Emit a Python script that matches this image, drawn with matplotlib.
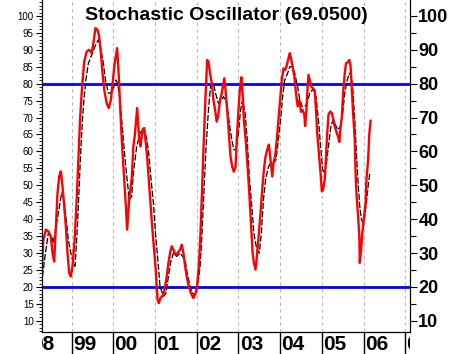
import matplotlib
matplotlib.use("Agg")
import matplotlib.pyplot as plt
import numpy as np

plt.rcParams['font.family'] = ['Liberation Sans', 'DejaVu Sans']

# %K (red) - decimal year, value
k_year = [1998.29, 1998.32, 1998.38, 1998.44, 1998.50, 1998.54, 1998.58, 1998.62, 1998.66, 1998.70,
          1998.74, 1998.78, 1998.82, 1998.86, 1998.90, 1998.94, 1998.98, 1999.02, 1999.07, 1999.12,
          1999.16, 1999.20, 1999.25, 1999.30, 1999.36, 1999.42, 1999.48, 1999.52, 1999.57, 1999.62,
          1999.66, 1999.70, 1999.74, 1999.78, 1999.84, 1999.89, 1999.94, 1999.98, 2000.03, 2000.09,
          2000.13, 2000.17, 2000.21, 2000.25, 2000.30, 2000.33, 2000.38, 2000.44, 2000.48, 2000.52,
          2000.57, 2000.62, 2000.65, 2000.70, 2000.74, 2000.77, 2000.81, 2000.85, 2000.89, 2000.93,
          2000.97, 2001.01, 2001.04, 2001.06, 2001.09, 2001.13, 2001.20, 2001.24, 2001.28, 2001.32,
          2001.36, 2001.40, 2001.44, 2001.49, 2001.54, 2001.60, 2001.64, 2001.68, 2001.72, 2001.76,
          2001.80, 2001.86, 2001.92, 2001.97, 2002.01, 2002.05, 2002.09, 2002.13, 2002.17, 2002.21,
          2002.25, 2002.28, 2002.32, 2002.36, 2002.40, 2002.44, 2002.48, 2002.51, 2002.56, 2002.60,
          2002.64, 2002.66, 2002.69, 2002.73, 2002.77, 2002.81, 2002.85, 2002.89, 2002.93, 2002.96,
          2003.00, 2003.04, 2003.07, 2003.10, 2003.13, 2003.18, 2003.22, 2003.26, 2003.30, 2003.34,
          2003.37, 2003.41, 2003.45, 2003.49, 2003.53, 2003.57, 2003.61, 2003.65, 2003.69, 2003.73,
          2003.77, 2003.81, 2003.84, 2003.88, 2003.92, 2003.96, 2004.00, 2004.04, 2004.08, 2004.12,
          2004.15, 2004.19, 2004.23, 2004.26, 2004.30, 2004.34, 2004.38, 2004.42, 2004.46, 2004.50,
          2004.54, 2004.58, 2004.60, 2004.63, 2004.66, 2004.68, 2004.72, 2004.75, 2004.79, 2004.83,
          2004.86, 2004.89, 2004.93, 2004.97, 2005.00, 2005.03, 2005.07, 2005.10, 2005.13, 2005.16,
          2005.20, 2005.24, 2005.28, 2005.31, 2005.35, 2005.39, 2005.42, 2005.45, 2005.48, 2005.51,
          2005.55, 2005.58, 2005.61, 2005.66, 2005.69, 2005.72, 2005.75, 2005.79, 2005.81, 2005.83,
          2005.87, 2005.90, 2005.91, 2005.95, 2005.97, 2005.99, 2006.02, 2006.05, 2006.07, 2006.11,
          2006.14, 2006.17]
k_val = [26.1, 33.9, 36.9, 36.4, 34.9, 30.0, 27.5, 37.9, 47.7, 52.6,
         54.1, 49.7, 43.8, 37.9, 30.0, 24.1, 23.1, 26.1, 33.9, 45.7,
         57.5, 69.3, 79.2, 86.5, 89.5, 90.0, 89.0, 91.9, 96.4, 95.9,
         93.9, 89.0, 83.1, 78.2, 74.2, 72.8, 75.2, 80.1, 86.0, 90.5,
         82.1, 71.3, 61.5, 53.6, 43.8, 36.9, 46.0, 52.0, 61.5, 65.4,
         72.8, 63.5, 61.5, 66.4, 66.9, 63.5, 58.5, 51.6, 44.8, 37.9,
         32.0, 26.1, 20.1, 16.2, 15.2, 16.7, 17.7, 20.1, 23.1, 27.1,
         30.0, 32.0, 31.0, 29.5, 30.0, 31.0, 32.5, 30.0, 26.1, 23.1,
         20.6, 18.1, 16.7, 18.1, 20.6, 26.1, 35.9, 49.7, 63.5, 76.2,
         87.0, 86.5, 83.1, 80.1, 75.2, 72.2, 68.8, 70.2, 75.2, 77.2,
         80.1, 81.6, 78.2, 72.2, 65.4, 58.5, 55.5, 54.0, 55.5, 63.5,
         72.2, 79.1, 81.9, 77.2, 69.3, 62.5, 55.5, 47.7, 38.8, 30.0,
         27.1, 25.1, 30.0, 35.9, 41.8, 48.7, 54.6, 58.5, 60.5, 62.0,
         57.5, 52.6, 56.5, 58.5, 63.5, 69.3, 75.2, 81.1, 84.5, 84.0,
         85.0, 87.0, 89.0, 87.5, 85.0, 82.1, 77.2, 73.3, 75.2, 71.7,
         72.2, 70.8, 67.5, 72.2, 79.1, 82.6, 80.6, 79.1, 78.6, 78.0,
         72.2, 65.4, 59.4, 53.5, 48.2, 48.7, 51.6, 58.5, 65.4, 70.8,
         71.8, 71.3, 69.3, 67.3, 65.8, 64.3, 62.8, 67.3, 70.2, 77.1,
         83.1, 86.0, 86.2, 87.0, 85.1, 78.2, 71.3, 63.5, 53.6, 47.7,
         40.8, 34.9, 27.1, 32.0, 35.9, 37.9, 41.8, 44.8, 51.6, 57.5,
         65.4, 69.05]

# %D (black dashed)
d_year = [1998.30, 1998.36, 1998.44, 1998.52, 1998.56, 1998.60, 1998.68, 1998.76, 1998.82, 1998.86,
          1998.92, 1998.98, 1999.04, 1999.08, 1999.12, 1999.16, 1999.20, 1999.24, 1999.28, 1999.34,
          1999.40, 1999.48, 1999.56, 1999.64, 1999.69, 1999.76, 1999.81, 1999.88, 1999.93, 2000.00,
          2000.06, 2000.10, 2000.16, 2000.20, 2000.24, 2000.29, 2000.33, 2000.38, 2000.44, 2000.48,
          2000.56, 2000.64, 2000.72, 2000.77, 2000.84, 2000.89, 2000.96, 2001.01, 2001.08, 2001.12,
          2001.20, 2001.26, 2001.32, 2001.37, 2001.44, 2001.52, 2001.60, 2001.66, 2001.72, 2001.77,
          2001.84, 2001.90, 2001.96, 2002.02, 2002.08, 2002.12, 2002.17, 2002.22, 2002.28, 2002.33,
          2002.40, 2002.45, 2002.52, 2002.60, 2002.64, 2002.72, 2002.78, 2002.84, 2002.89, 2002.94,
          2003.00, 2003.05, 2003.10, 2003.16, 2003.21, 2003.26, 2003.32, 2003.37, 2003.44, 2003.50,
          2003.55, 2003.60, 2003.65, 2003.72, 2003.77, 2003.83, 2003.90, 2003.95, 2004.01, 2004.06,
          2004.11, 2004.18, 2004.23, 2004.30, 2004.35, 2004.42, 2004.47, 2004.53, 2004.59, 2004.65,
          2004.71, 2004.79, 2004.86, 2004.92, 2004.97, 2005.02, 2005.07, 2005.11, 2005.17, 2005.22,
          2005.27, 2005.34, 2005.39, 2005.45, 2005.50, 2005.55, 2005.61, 2005.66, 2005.71, 2005.75,
          2005.79, 2005.83, 2005.87, 2005.91, 2005.95, 2005.99, 2006.03, 2006.07, 2006.11, 2006.15]
d_val = [23.1, 29.0, 35.9, 34.9, 33.0, 35.9, 41.8, 47.7, 45.7, 40.8,
         33.9, 30.0, 27.1, 26.1, 33.9, 43.8, 55.5, 65.4, 73.3, 81.1,
         86.0, 88.5, 91.0, 93.0, 91.0, 86.0, 81.1, 77.2, 77.2, 78.6,
         81.1, 80.1, 75.2, 69.3, 63.5, 56.5, 51.6, 45.7, 46.7, 53.6,
         61.5, 65.4, 66.9, 65.4, 60.5, 53.6, 44.8, 35.9, 26.1, 20.1,
         17.2, 18.1, 23.1, 27.1, 30.0, 29.0, 30.0, 29.0, 28.1, 24.1,
         20.1, 18.1, 17.6, 20.1, 26.1, 34.0, 47.7, 60.5, 72.2, 79.1,
         80.1, 77.2, 74.2, 75.2, 76.2, 74.2, 68.4, 63.5, 60.5, 60.5,
         65.4, 72.2, 75.2, 71.3, 63.5, 52.6, 43.8, 35.9, 31.0, 30.0,
         35.9, 45.7, 51.6, 55.5, 56.5, 56.5, 57.5, 62.5, 69.3, 76.2,
         81.1, 83.1, 85.0, 85.0, 83.1, 79.1, 75.2, 73.3, 73.3, 74.2,
         77.2, 78.4, 76.2, 69.3, 61.5, 54.6, 53.6, 56.5, 62.5, 67.5,
         69.3, 67.5, 66.4, 67.5, 71.3, 77.2, 81.1, 83.1, 82.1, 77.2,
         69.3, 59.4, 50.6, 43.8, 39.9, 38.9, 40.8, 44.8, 49.7, 53.6]

years = list(range(1998, 2008))
year_labels = ["98", "99", "00", "01", "02", "03", "04", "05", "06", "07"]
levels = [20, 80]
title = "Stochastic Oscillator (69.0500)"

W, H = 451, 354
fig = plt.figure(figsize=(W / 100, H / 100), dpi=100)
L, R, B = 42, 410, 22
ax = fig.add_axes([L / W, B / H, (R - L) / W, 1 - B / H])

x0, x1 = 1998.288, 2007.115
ax.set_xlim(x0, x1)
ax.set_ylim(6.7, 104.7)

for yr in years:
    ax.axvline(yr, color='#b8b8b8', ls=(0, (3, 3)), lw=0.8, zorder=1)
for lv in levels:
    ax.axhline(lv, color='#0000ff', lw=2.0, zorder=2)

ax.plot(d_year, d_val, color='black', lw=0.9, ls=(0, (5, 1.5)), zorder=3)
ax.plot(k_year, k_val, color='#ff0000', lw=1.7, zorder=4)

ax.text(0.5, 0.978, title, transform=ax.transAxes, ha='center', va='top',
        fontsize=14, fontweight='bold')

ax.spines['top'].set_visible(False)
ax.set_xticks([])
ax.set_yticks(np.arange(10, 101, 5))
ax.set_yticks(np.arange(7, 105, 1), minor=True)
ax.tick_params(axis='y', which='major', direction='out', length=4, width=0.8,
               labelsize=7, pad=2)
ax.tick_params(axis='y', which='minor', direction='out', length=2, width=0.6)

axr = ax.twinx()
axr.set_ylim(ax.get_ylim())
axr.spines['top'].set_visible(False)
axr.set_yticks(np.arange(10, 101, 10))
axr.set_yticks(np.arange(15, 101, 10), minor=True)
axr.tick_params(axis='y', which='major', direction='out', length=5, width=0.8,
                labelsize=13, pad=1)
axr.tick_params(axis='y', which='minor', direction='out', length=4, width=0.8)
for t in axr.get_yticklabels():
    t.set_fontweight('bold')

# year label strip below the plot
axx = fig.add_axes([L / W, 0, (R - L) / W, B / H])
axx.set_xlim(x0, x1)
axx.set_ylim(0, 1)
axx.axis('off')
for yr, lab in zip(years, year_labels):
    axx.axvline(yr, color='black', lw=1.0)
    axx.text(yr + 0.03, 0.42, lab, ha='left', va='center', fontsize=15,
             fontweight='bold', clip_on=True)

fig.savefig("out.png", dpi=100)
